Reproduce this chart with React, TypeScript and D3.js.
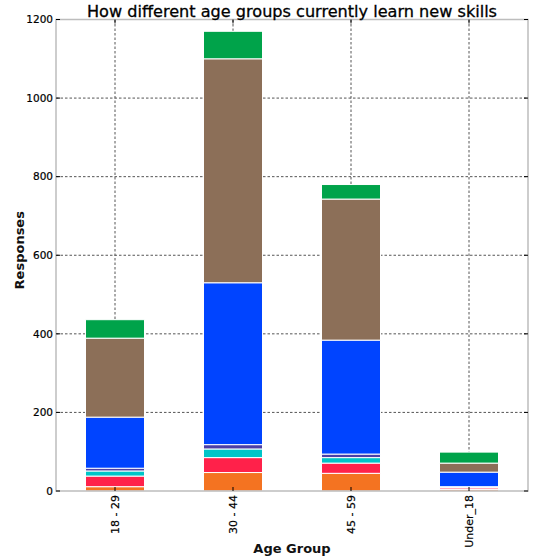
import React from "react";
import * as d3 from "d3";

const categories = ["18 - 29", "30 - 44", "45 - 59", "Under_18"];
const seriesNames = ["s1", "s2", "s3", "s4", "s5", "s6", "s7"];
const seriesColors = ["#f47321", "#ff214a", "#00c5c8", "#4b3fa6", "#0044ff", "#8c6f58", "#00a34a"];
const s1 = [11, 47, 45, 4];
const s2 = [27, 38, 26, 4];
const s3 = [13, 22, 14, 2];
const s4 = [7, 11, 9, 1];
const s5 = [130, 412, 290, 37];
const s6 = [201, 570, 359, 23];
const s7 = [47, 70, 37, 28];
const yTicks = [0, 200, 400, 600, 800, 1000, 1200];
const title = "How different age groups currently learn new skills";
const xLabel = "Age Group";
const yLabel = "Responses";

const W = 545, H = 557;
const M = { left: 56, right: 528, top: 19.5, bottom: 491 };
const FONT = "'DejaVu Sans', sans-serif";

export default function App() {
  const seriesValues = [s1, s2, s3, s4, s5, s6, s7];
  const rows = categories.map((c, i) => {
    const r: any = { cat: c };
    seriesNames.forEach((n, j) => (r[n] = seriesValues[j][i]));
    return r;
  });
  const stacked = d3.stack().keys(seriesNames)(rows);
  const x = d3.scaleBand().domain(categories).range([M.left, M.right]).paddingInner(0.5).paddingOuter(0.25);
  const y = d3.scaleLinear().domain([0, 1200]).range([M.bottom, M.top]);
  const cx = (c: string) => (x(c) as number) + x.bandwidth() / 2;

  return (
    <svg width={W} height={H} style={{ position: "absolute", left: 0, top: 0, background: "#fff" }}>
      {/* grid */}
      {yTicks.slice(1, -1).map((t) => (
        <line key={"gy" + t} x1={M.left} x2={M.right} y1={y(t)} y2={y(t)} stroke="#555" strokeWidth={1} strokeDasharray="2.5,2" />
      ))}
      {categories.map((c) => (
        <line key={"gx" + c} x1={cx(c)} x2={cx(c)} y1={M.top} y2={M.bottom} stroke="#555" strokeWidth={1} strokeDasharray="2.5,2" />
      ))}
      {/* bars */}
      {stacked.map((s, j) => (
        <g key={s.key} fill={seriesColors[j]}>
          {s.map((d, i) => (
            <rect
              key={i}
              x={x(categories[i]) as number}
              width={x.bandwidth()}
              y={y(d[1])}
              height={Math.max(0, y(d[0]) - y(d[1]))}
              stroke="#fff"
              strokeWidth={1}
            />
          ))}
        </g>
      ))}
      {/* frame */}
      <rect x={M.left} y={M.top} width={M.right - M.left} height={M.bottom - M.top} fill="none" stroke="#bdbdbd" strokeWidth={1.5} />
      {/* y ticks */}
      {yTicks.map((t) => (
        <g key={"yt" + t}>
          <line x1={M.left} x2={M.left + 4} y1={y(t)} y2={y(t)} stroke="#000" />
          <line x1={M.right - 4} x2={M.right} y1={y(t)} y2={y(t)} stroke="#000" />
          <text x={M.left - 3} y={y(t)} dy="0.35em" textAnchor="end" fontFamily={FONT} fontSize={10.5} fill="#000" stroke="#000" strokeWidth={0.2}>
            {t}
          </text>
        </g>
      ))}
      {/* x ticks */}
      {categories.map((c) => (
        <g key={"xt" + c}>
          <line x1={cx(c)} x2={cx(c)} y1={M.bottom} y2={M.bottom - 4} stroke="#000" />
          <line x1={cx(c)} x2={cx(c)} y1={M.top} y2={M.top + 4} stroke="#000" />
          <text
            transform={`translate(${cx(c)},${M.bottom + 4}) rotate(-90)`}
            textAnchor="end"
            dy="0.35em"
            fontFamily={FONT}
            fontSize={11}
            fill="#000"
            stroke="#000"
            strokeWidth={0.2}
          >
            {c}
          </text>
        </g>
      ))}
      <text x={(M.left + M.right) / 2} y={17} textAnchor="middle" fontFamily={FONT} fontSize={16} fill="#000" stroke="#000" strokeWidth={0.3} textLength={410} lengthAdjust="spacingAndGlyphs">
        {title}
      </text>
      <text x={(M.left + M.right) / 2} y={553} textAnchor="middle" fontFamily={FONT} fontSize={13} fontWeight="bold" fill="#111">
        {xLabel}
      </text>
      <text transform={`translate(24,${(M.top + M.bottom) / 2 - 5}) rotate(-90)`} textAnchor="middle" fontFamily={FONT} fontSize={13} fontWeight="bold" fill="#111">
        {yLabel}
      </text>
    </svg>
  );
}
